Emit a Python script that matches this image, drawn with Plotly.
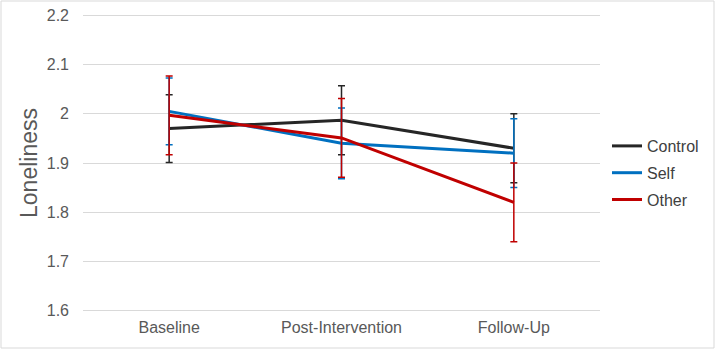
import plotly.graph_objects as go

categories = ["Baseline", "Post-Intervention", "Follow-Up"]
series_names = ["Control", "Self", "Other"]
control = [1.97, 1.987, 1.93]
self_vals = [2.005, 1.94, 1.92]
other = [1.997, 1.951, 1.82]
control_err = [0.069, 0.07, 0.07]
self_err = [0.068, 0.072, 0.07]
other_err = [0.08, 0.08, 0.08]
colors = ["#262626", "#0070C0", "#C00000"]
y_ticks = [1.6, 1.7, 1.8, 1.9, 2.0, 2.1, 2.2]

fig = go.Figure()
for name, vals, err, col in zip(series_names, [control, self_vals, other],
                                [control_err, self_err, other_err], colors):
    fig.add_trace(go.Scatter(
        x=categories, y=vals, name=name, mode="lines", legendgroup=name,
        line=dict(color=col, width=3),
        error_y=dict(type="data", array=err, visible=True, color=col,
                     thickness=1.5, width=3.5),
    ))

L, R, T, B = 83, 115, 13, 36
W, H = 715, 349
pw, ph = W - L - R, H - T - B
ybot = H - B

fig.update_layout(
    width=W, height=H,
    margin=dict(l=L, r=R, t=T, b=B, autoexpand=False),
    paper_bgcolor="white", plot_bgcolor="white",
    font=dict(family="Liberation Sans, Arial, sans-serif", color="#595959"),
    showlegend=True,
    legend=dict(x=(607 - L) / pw, y=(ybot - 129) / ph, xanchor="left", yanchor="top",
                font=dict(size=16, color="#404040"), tracegroupgap=3,
                itemwidth=30, bgcolor="rgba(0,0,0,0)"),
    xaxis=dict(type="category", range=[-0.5, 2.5], showgrid=False, zeroline=False,
               showline=False, automargin=False,
               tickfont=dict(size=16, color="#595959"), ticks="", ticklabelstandoff=3),
    yaxis=dict(range=[1.595, 2.205], tickvals=y_ticks, ticktext=[f"{v:g}" for v in y_ticks],
               showgrid=True, gridcolor="#d9d9d9", gridwidth=1, zeroline=False,
               showline=False, automargin=False, tickfont=dict(size=16, color="#595959"),
               ticklabelstandoff=13,
               title=dict(text="Loneliness", font=dict(size=23, color="#595959"), standoff=2)),
    shapes=[dict(type="rect", xref="paper", yref="paper",
                 x0=(1 - L) / pw, x1=(714 - L) / pw,
                 y0=(ybot - 348) / ph, y1=(ybot - 1) / ph,
                 line=dict(color="#d9d9d9", width=1), fillcolor="rgba(0,0,0,0)",
                 layer="below")],
)
fig.write_html("out.html", config={"displayModeBar": False},
               post_script="document.body.style.margin='0';document.body.style.overflow='hidden';")
